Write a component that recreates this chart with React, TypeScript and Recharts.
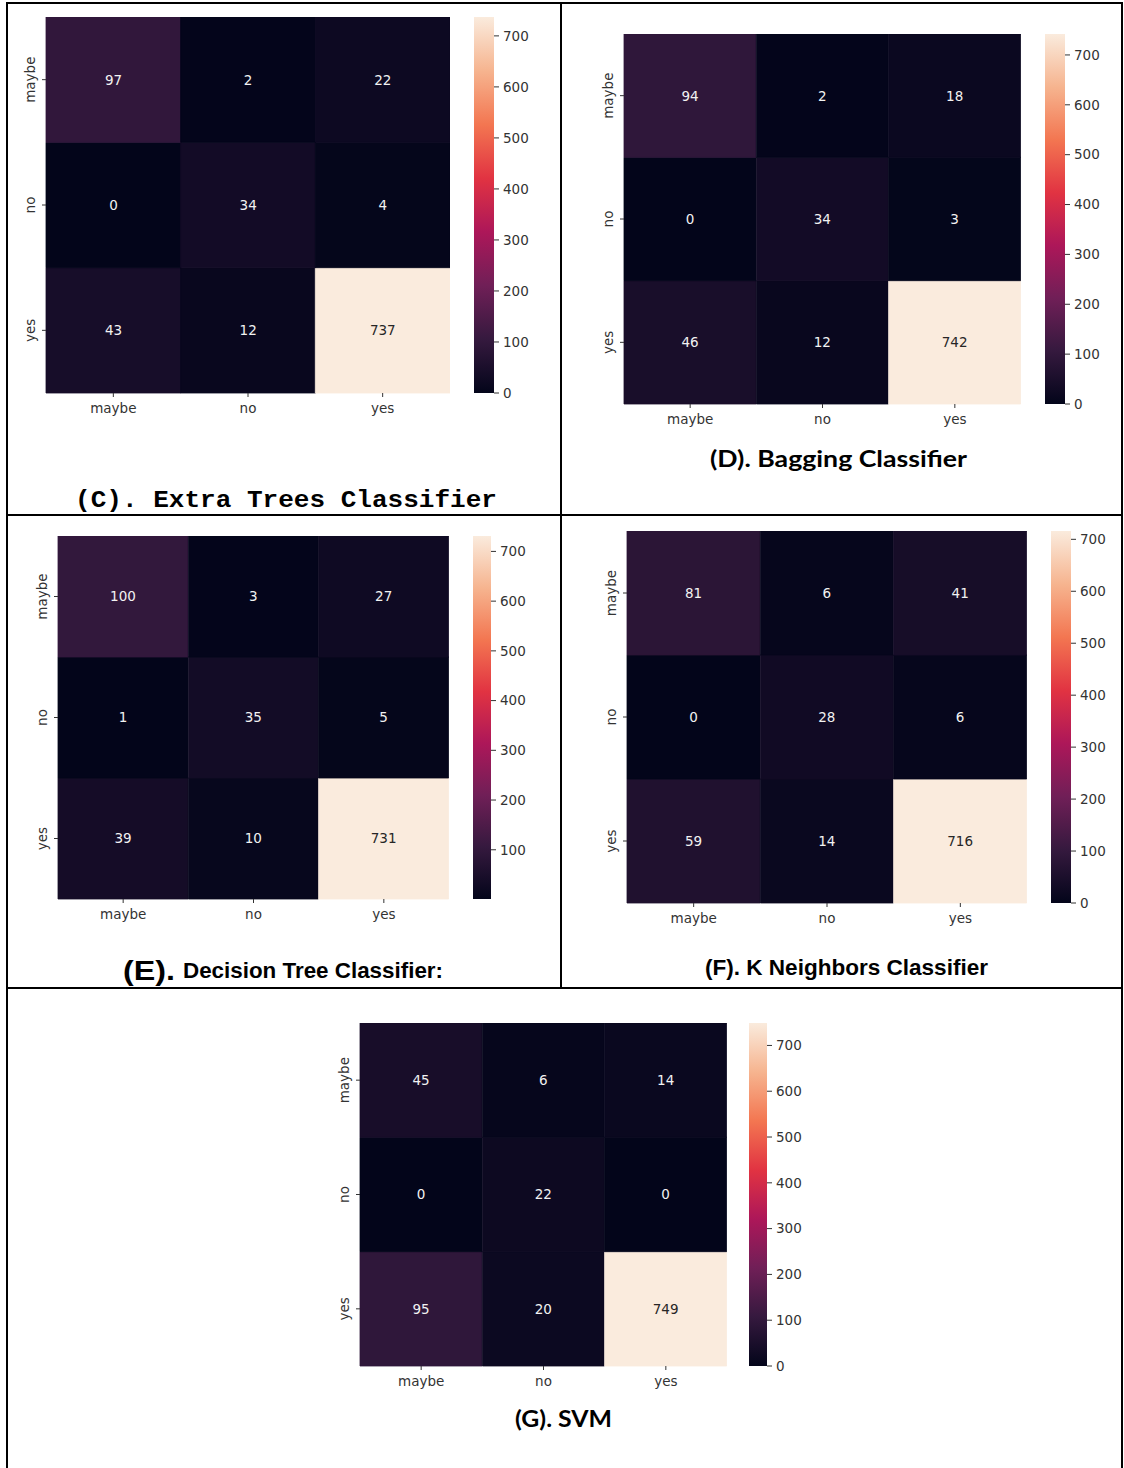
import React from 'react';
import { BarChart, Bar, XAxis, YAxis, Cell, LabelList } from 'recharts';

// ---------- data ----------
const classes = ['maybe', 'no', 'yes'];
// rows = actual (maybe, no, yes), columns = predicted (maybe, no, yes)
const extraTrees = [
  [97, 2, 22],
  [0, 34, 4],
  [43, 12, 737],
];
const bagging = [
  [94, 2, 18],
  [0, 34, 3],
  [46, 12, 742],
];
const decisionTree = [
  [100, 3, 27],
  [1, 35, 5],
  [39, 10, 731],
];
const kNeighbors = [
  [81, 6, 41],
  [0, 28, 6],
  [59, 14, 716],
];
const svm = [
  [45, 6, 14],
  [0, 22, 0],
  [95, 20, 749],
];
const colorbarTicks = [0, 100, 200, 300, 400, 500, 600, 700];

// ---------- colormap (seaborn "rocket") ----------
const ROCKET: [number, number[]][] = [
  [0, [3, 5, 26]],
  [0.143, [53, 25, 62]],
  [0.286, [112, 31, 87]],
  [0.429, [173, 23, 89]],
  [0.571, [225, 51, 66]],
  [0.714, [243, 118, 81]],
  [0.857, [246, 180, 143]],
  [1, [250, 235, 221]],
];
function rocket(t: number): string {
  const v = Math.max(0, Math.min(1, t));
  for (let i = 0; i < ROCKET.length - 1; i++) {
    const [t0, c0] = ROCKET[i];
    const [t1, c1] = ROCKET[i + 1];
    if (v >= t0 && v <= t1) {
      const f = (v - t0) / (t1 - t0);
      const c = c0.map((a, k) => Math.round(a + (c1[k] - a) * f));
      return `rgb(${c[0]},${c[1]},${c[2]})`;
    }
  }
  const c = ROCKET[ROCKET.length - 1][1];
  return `rgb(${c[0]},${c[1]},${c[2]})`;
}

// ---------- layout ----------
const FONT = 'DejaVu Sans';
const TXT = '#333333';
const panels = [
  { id: 'c', matrix: extraTrees, hx: 46, hy: 17, hw: 404, hh: 376, cbx: 474, cbw: 20 },
  { id: 'd', matrix: bagging, hx: 624, hy: 34, hw: 397, hh: 370, cbx: 1045, cbw: 20 },
  { id: 'e', matrix: decisionTree, hx: 58, hy: 536, hw: 391, hh: 363, cbx: 473, cbw: 18 },
  { id: 'f', matrix: kNeighbors, hx: 627, hy: 531, hw: 400, hh: 372, cbx: 1051, cbw: 20 },
  { id: 'g', matrix: svm, hx: 360, hy: 1023, hw: 367, hh: 343, cbx: 749, cbw: 18 },
];

const rowOrderBottomUp = ['yes', 'no', 'maybe'];
const yTickValue: Record<string, number> = { yes: 0.5, no: 1.5, maybe: 2.5 };

function RotTick(props: any) {
  const { x, y, payload } = props;
  const label = Object.keys(yTickValue).find((k) => yTickValue[k] === payload.value) || '';
  return (
    <text
      x={0}
      y={0}
      transform={`translate(${x - 5},${y}) rotate(-90)`}
      textAnchor="middle"
      fill={TXT}
      fontSize={13.5}
      fontFamily={FONT}
    >
      {label}
    </text>
  );
}

function Heatmap({ p }: { p: any }) {
  const m: number[][] = p.matrix;
  const flat = m.flat();
  const vmin = Math.min(...flat);
  const vmax = Math.max(...flat);
  const norm = (v: number) => (v - vmin) / (vmax - vmin);
  const data = classes.map((c, ci) => ({
    col: c,
    maybe: 1,
    no: 1,
    yes: 1,
    maybeV: m[0][ci],
    noV: m[1][ci],
    yesV: m[2][ci],
  }));
  const YW = 40;
  const XH = 34;
  const renderLabel = (props: any) => {
    const vb = props.viewBox && props.viewBox.width !== undefined ? props.viewBox : props;
    const cx = vb.x + vb.width / 2;
    const cy = vb.y + vb.height / 2;
    const val = Number(props.value);
    const light = norm(val) > 0.6;
    return (
      <text
        x={cx}
        y={cy}
        dy="0.36em"
        textAnchor="middle"
        fill={light ? '#262626' : '#f2f2f2'}
        fontSize={13.5}
        fontFamily={FONT}
      >
        {val}
      </text>
    );
  };
  const gid = `grad-${p.id}`;
  const stops = [...ROCKET].reverse();
  return (
    <>
      <div style={{ position: 'absolute', left: p.hx - YW, top: p.hy }}>
        <BarChart
          width={YW + p.hw}
          height={p.hh + XH}
          data={data}
          margin={{ top: 0, right: 0, bottom: 0, left: 0 }}
          barCategoryGap={0}
          barGap={0}
        >
          <XAxis
            dataKey="col"
            type="category"
            height={XH}
            interval={0}
            tickSize={4}
            tickMargin={6}
            axisLine={false}
            tickLine={{ stroke: TXT }}
            tick={{ fill: TXT, fontSize: 13.5, fontFamily: FONT }}
          />
          <YAxis
            type="number"
            domain={[0, 3]}
            ticks={[0.5, 1.5, 2.5]}
            width={YW}
            tickSize={4}
            axisLine={false}
            tickLine={{ stroke: TXT }}
            tick={<RotTick />}
          />
          {rowOrderBottomUp.map((r) => (
            <Bar key={r} dataKey={r} stackId="m" isAnimationActive={false}>
              {data.map((d: any, i) => {
                const col = rocket(norm(d[r + 'V']));
                return <Cell key={i} fill={col} stroke={col} strokeWidth={0.8} />;
              })}
              <LabelList dataKey={r + 'V'} content={renderLabel} />
            </Bar>
          ))}
        </BarChart>
      </div>
      <div style={{ position: 'absolute', left: p.cbx, top: p.hy - 10 }}>
        <BarChart
          width={p.cbw + 45}
          height={p.hh + 20}
          data={[{ k: 'cb', v: vmax }]}
          margin={{ top: 10, right: 0, bottom: 10, left: 0 }}
          barCategoryGap={0}
        >
          <defs>
            <linearGradient id={gid} x1="0" y1="0" x2="0" y2="1">
              {stops.map(([t, c], i) => (
                <stop key={i} offset={1 - t} stopColor={`rgb(${c[0]},${c[1]},${c[2]})`} />
              ))}
            </linearGradient>
          </defs>
          <XAxis dataKey="k" hide />
          <YAxis
            orientation="right"
            type="number"
            domain={[vmin, vmax]}
            allowDataOverflow
            ticks={colorbarTicks.filter((t) => t >= vmin && t <= vmax)}
            width={45}
            tickSize={5}
            tickMargin={4}
            axisLine={false}
            tickLine={{ stroke: TXT }}
            tick={{ fill: TXT, fontSize: 13.5, fontFamily: FONT }}
          />
          <Bar dataKey="v" fill={`url(#${gid})`} isAnimationActive={false} />
        </BarChart>
      </div>
    </>
  );
}

export default function App() {
  return (
    <div
      style={{
        position: 'absolute',
        left: 0,
        top: 0,
        width: 1124,
        height: 1468,
        background: '#ffffff',
        overflow: 'hidden',
      }}
    >
      {panels.map((p) => (
        <Heatmap key={p.id} p={p} />
      ))}
      <svg
        width={1124}
        height={1468}
        style={{ position: 'absolute', left: 0, top: 0, pointerEvents: 'none' }}
      >
        {/* table borders */}
        <line x1={6} y1={3} x2={1123} y2={3} stroke="#000" strokeWidth={2} />
        <line x1={7} y1={2} x2={7} y2={1468} stroke="#000" strokeWidth={2} />
        <line x1={1122} y1={2} x2={1122} y2={1468} stroke="#000" strokeWidth={2} />
        <line x1={7} y1={515} x2={1122} y2={515} stroke="#000" strokeWidth={2} />
        <line x1={7} y1={988} x2={1122} y2={988} stroke="#000" strokeWidth={2} />
        <line x1={561} y1={3} x2={561} y2={988} stroke="#000" strokeWidth={2} />

        {/* titles */}
        <text x={75} y={507} fontFamily="Liberation Mono" fontWeight="bold" fontSize={24}
          textLength={422} lengthAdjust="spacingAndGlyphs" fill="#000">
          (C). Extra Trees Classifier
        </text>
        <text x={710} y={467} fontFamily="Lato" fontWeight="bold" fontSize={22}
          textLength={257} lengthAdjust="spacingAndGlyphs" fill="#000">
          (D). Bagging Classifier
        </text>
        <text x={123} y={980} fontFamily="Liberation Sans" fontWeight="bold" fontSize={28}
          textLength={52} lengthAdjust="spacingAndGlyphs" fill="#000">
          (E).
        </text>
        <text x={183} y={978} fontFamily="Liberation Sans" fontWeight="bold" fontSize={22}
          textLength={260} lengthAdjust="spacingAndGlyphs" fill="#000">
          Decision Tree Classifier:
        </text>
        <text x={705} y={975} fontFamily="Liberation Sans" fontWeight="bold" fontSize={22}
          textLength={283} lengthAdjust="spacingAndGlyphs" fill="#000">
          (F). K Neighbors Classifier
        </text>
        <text x={515} y={1427} fontFamily="Lato" fontWeight="bold" fontSize={22}
          textLength={97} lengthAdjust="spacingAndGlyphs" fill="#000">
          (G). SVM
        </text>
      </svg>
    </div>
  );
}
